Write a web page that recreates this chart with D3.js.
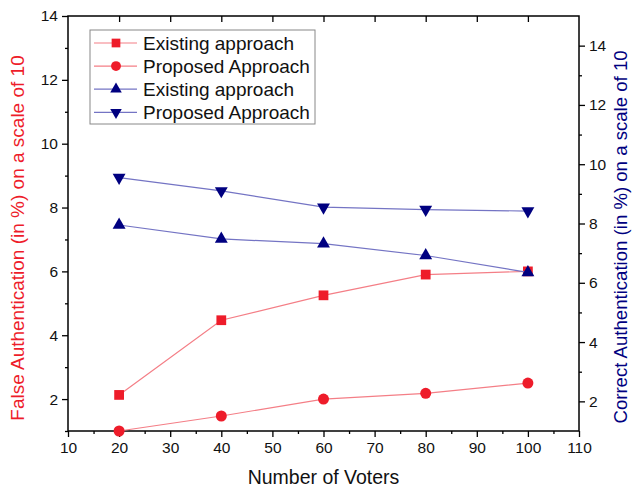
<!DOCTYPE html>
<html>
<head>
<meta charset="utf-8">
<script src="https://cdn.jsdelivr.net/npm/d3@7"></script>
<style>
  body { margin: 0; background: #fff; }
  text { font-family: "Liberation Sans", Arial, sans-serif; }
</style>
</head>
<body>
<script>
// data
var voters = [20, 40, 60, 80, 100];
var falseExisting = [2.13, 4.47, 5.25, 5.9, 6.0];
var falseProposed = [1.0, 1.47, 2.0, 2.18, 2.5];
var correctExisting = [7.95, 7.48, 7.32, 6.92, 6.35];
var correctProposed = [9.55, 9.1, 8.55, 8.47, 8.42];
var legendLabels = ["Existing approach", "Proposed Approach", "Existing approach", "Proposed Approach"];

var width = 634, height = 490;
var margin = {top: 16, right: 55, bottom: 59, left: 68};
var red = "#ee1c2a", blue = "#000080";
var redLine = "#f47e86", blueLine = "#7474c4";

var svg = d3.select("body").append("svg")
  .attr("width", width)
  .attr("height", height);

var x = d3.scaleLinear().domain([10, 110]).range([margin.left, width - margin.right]);
var yL = d3.scaleLinear().domain([1, 14]).range([height - margin.bottom, margin.top]);
var yR = d3.scaleLinear().domain([1, 15]).range([height - margin.bottom, margin.top]);

var plotB = height - margin.bottom, plotT = margin.top;
var plotL = margin.left, plotR = width - margin.right;

// minor ticks first
function minor(axis, ticks) {
  return axis.tickValues(ticks).tickSize(3).tickFormat("");
}
svg.append("g").attr("transform", "translate(0," + plotB + ")")
  .call(minor(d3.axisBottom(x), d3.range(15, 110, 10)));
svg.append("g").attr("transform", "translate(" + plotL + ",0)")
  .call(minor(d3.axisLeft(yL), d3.range(1, 14, 2)));
svg.append("g").attr("transform", "translate(" + plotR + ",0)")
  .call(minor(d3.axisRight(yR), d3.range(3, 15, 2)));

// major axes
svg.append("g").attr("transform", "translate(0," + plotB + ")")
  .call(d3.axisBottom(x).tickValues(d3.range(10, 111, 10)).tickSize(6).tickPadding(5));
svg.append("g").attr("transform", "translate(" + plotL + ",0)")
  .call(d3.axisLeft(yL).tickValues([2, 4, 6, 8, 10, 12, 14]).tickSize(6).tickPadding(4));
svg.append("g").attr("transform", "translate(" + plotR + ",0)")
  .call(d3.axisRight(yR).tickValues([2, 4, 6, 8, 10, 12, 14]).tickSize(6).tickPadding(4));
// top ticks pointing in
svg.append("g").attr("transform", "translate(0," + plotT + ")")
  .call(d3.axisTop(x).tickValues(d3.range(20, 101, 10)).tickSize(-6).tickFormat(""));

svg.selectAll(".domain").remove();
svg.selectAll(".tick line").attr("stroke", "#000").attr("stroke-width", 1.3);
svg.selectAll(".tick text").attr("font-size", 15.5).attr("fill", "#111")
  .style("font-family", "Liberation Sans, Arial, sans-serif");

svg.append("rect")
  .attr("x", plotL).attr("y", plotT)
  .attr("width", plotR - plotL).attr("height", plotB - plotT)
  .attr("fill", "none").attr("stroke", "#000").attr("stroke-width", 1.5);

// axis titles
svg.append("text")
  .attr("x", (plotL + plotR) / 2).attr("y", 484)
  .attr("text-anchor", "middle").attr("font-size", 19.5).attr("fill", "#111")
  .text("Number of Voters");
svg.append("text")
  .attr("transform", "translate(24,238) rotate(-90)")
  .attr("text-anchor", "middle").attr("font-size", 19).attr("fill", red)
  .text("False Authentication (in %) on a scale of 10");
svg.append("text")
  .attr("transform", "translate(627,237) rotate(-90)")
  .attr("text-anchor", "middle").attr("font-size", 18.6).attr("fill", blue)
  .text("Correct Authentication (in %) on a scale of 10");

// series
var series = [
  {vals: falseExisting, y: yL, color: red, line: redLine, sym: d3.symbolSquare, size: 95, rot: 0},
  {vals: falseProposed, y: yL, color: red, line: redLine, sym: d3.symbolCircle, size: 95, rot: 0},
  {vals: correctExisting, y: yR, color: blue, line: blueLine, sym: d3.symbolTriangle, size: 72, rot: 0},
  {vals: correctProposed, y: yR, color: blue, line: blueLine, sym: d3.symbolTriangle, size: 72, rot: 180}
];

var line = d3.line();
series.forEach(function(s) {
  var pts = voters.map(function(v, i) { return [x(v), s.y(s.vals[i])]; });
  svg.append("path")
    .attr("d", line(pts))
    .attr("fill", "none").attr("stroke", s.line).attr("stroke-width", 1.2);
  svg.selectAll(null).data(pts).enter()
    .append("path")
    .attr("d", d3.symbol().type(s.sym).size(s.size))
    .attr("transform", function(p) { return "translate(" + p[0] + "," + p[1] + ") rotate(" + s.rot + ")"; })
    .attr("fill", s.color);
});

// legend
var lg = svg.append("g").attr("transform", "translate(90,30)");
lg.append("rect").attr("width", 225).attr("height", 94)
  .attr("fill", "#fff").attr("stroke", "#888").attr("stroke-width", 1);
series.forEach(function(s, i) {
  var yy = 13 + i * 23.1;
  lg.append("line").attr("x1", 4).attr("x2", 47).attr("y1", yy).attr("y2", yy)
    .attr("stroke", s.line).attr("stroke-width", 1.2);
  lg.append("path")
    .attr("d", d3.symbol().type(s.sym).size(s.size * 0.8))
    .attr("transform", "translate(26," + yy + ") rotate(" + s.rot + ")")
    .attr("fill", s.color);
  lg.append("text").attr("x", 53).attr("y", yy + 7)
    .attr("font-size", 19).attr("fill", "#111")
    .text(legendLabels[i]);
});
</script>
</body>
</html>
